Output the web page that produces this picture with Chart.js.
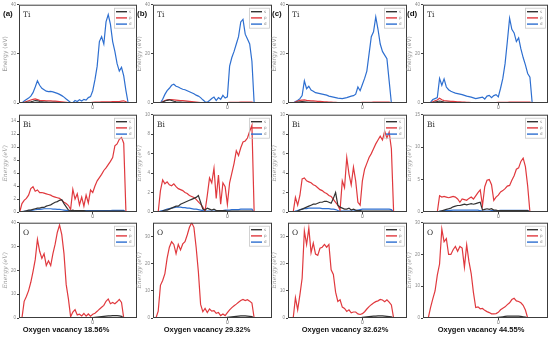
<!DOCTYPE html>
<html>
<head>
<meta charset="utf-8">
<script src="https://cdn.jsdelivr.net/npm/chart.js@4.4.0/dist/chart.umd.min.js"></script>
<style>
  body { margin: 0; background: #fff; width: 550px; height: 339px; position: relative; overflow: hidden;
         font-family: "Liberation Sans", Arial, sans-serif; }
  .panel { position: absolute; }
  .tag { position: absolute; font-weight: bold; font-size: 8px; color: #111; line-height: 1; }
  .cap { position: absolute; font-weight: bold; font-size: 7.5px; color: #111; line-height: 1; white-space: nowrap;
         transform: translate(-50%, -50%); }
</style>
</head>
<body>
<script>
// energy grid (shared x values)
const energy = [-9.9,-9.6,-9.3,-9.0,-8.7,-8.4,-8.1,-7.8,-7.5,-7.2,
  -6.9,-6.6,-6.3,-6.0,-5.7,-5.4,-5.1,-4.8,-4.5,-4.2,
  -3.9,-3.6,-3.3,-3.0,-2.7,-2.4,-2.1,-1.8,-1.5,-1.2,
  -0.9,-0.6,-0.3,0,0.3,0.6,0.9,1.2,1.5,1.8,
  2.1,2.4,2.7,3.0,3.3,3.6,3.9,4.2,4.5,4.8,
  5.1];

const panelTags = ['(a)', '(b)', '(c)', '(d)'];
const vacancies = ['Oxygen vacancy 18.56%', 'Oxygen vacancy 29.32%', 'Oxygen vacancy 32.62%', 'Oxygen vacancy 44.55%'];
const orbitals = ['s', 'p', 'd'];

// ---- Ti ----
const tiA_s = [null,0,0.2,0.3,0.4,0.5,0.7,1.0,0.9,0.6,
  0.5,0.4,0.4,0.3,0.3,0.3,0.3,0.2,0.2,0.2,
  0.2,0.1,0.1,0.05,0.05,0.05,0.05,0.05,0.05,0.05,
  0.05,0.1,0.1,0.1,0.1,0.1,0.1,0.1,0.1,0.1,
  0.1,0.1,0.1,0.1,0.1,0.1,0.2,0.2,0.1,0,
  null];
const tiA_p = [null,0,0.3,0.6,0.9,1.2,1.5,1.7,1.4,1.1,
  1.0,1.0,0.9,0.9,0.9,0.8,0.8,0.7,0.6,0.5,
  0.4,0.3,0.2,0.1,0.1,0.2,0.2,0.2,0.2,0.2,
  0.2,0.2,0.2,0.3,0.4,0.4,0.4,0.5,0.5,0.5,
  0.5,0.5,0.6,0.6,0.6,0.6,0.8,0.9,0.5,0,
  null];
const tiA_d = [null,0,0.8,1.4,2.0,2.8,4.2,6.5,9.0,7.2,
  6.0,5.4,4.8,4.6,4.7,4.5,4.2,3.9,3.5,3.0,
  2.4,1.6,0.9,0.2,0.1,1.0,0.6,1.3,0.8,1.5,
  1.2,2.2,2.6,5.0,9.5,15,25,27,24,33,
  36,32,25,21,16,13,14.5,11,5,0,
  null];

const tiB_s = [null,null,null,0,0.4,0.8,1.1,1.3,1.0,0.7,
  0.5,0.4,0.4,0.3,0.3,0.3,0.2,0.2,0.2,0.2,
  0.1,0.1,0.1,0.05,0.05,0.05,0.05,0.05,0.05,0.05,
  0.05,0.05,0.05,0.1,0.1,0.1,0.1,0.1,0.1,0.1,
  0.1,0.1,0.1,0.1,0.1,0,null,null,null,null,
  null];
const tiB_p = [null,null,null,0,0.5,1.0,1.3,1.4,1.4,1.3,
  1.2,1.1,1.0,1.0,0.9,0.8,0.7,0.6,0.5,0.4,
  0.3,0.2,0.1,0.1,0.1,0.1,0.1,0.1,0.1,0.1,
  0.1,0.1,0.1,0.2,0.3,0.3,0.3,0.3,0.3,0.4,
  0.4,0.4,0.4,0.4,0.4,0,null,null,null,null,
  null];
const tiB_d = [null,null,null,0,1.5,3.5,5.0,6.0,7.2,7.6,
  6.8,6.5,6.0,5.6,5.4,5.0,4.6,4.2,3.8,3.2,
  2.8,2.2,1.3,0.5,0.3,1.0,1.8,2.4,1.0,2.2,
  1.5,3.1,2.0,2.5,15,18.5,21,24,27,33,
  34,28,26,24,17,0,null,null,null,null,
  null];

const tiC_s = [null,null,0,0.2,0.4,0.5,0.6,0.5,0.4,0.3,
  0.3,0.3,0.2,0.2,0.2,0.2,0.2,0.2,0.1,0.1,
  0.1,0.1,0.1,0.05,0.05,0.05,0.05,0.05,0.05,0.05,
  0.05,0.1,0.1,0.1,0.1,0.1,0.1,0.1,0.1,0.1,
  0.1,0.1,0.1,0.1,0.1,0.1,0,null,null,null,
  null];
const tiC_p = [null,null,0,0.4,0.8,1.1,1.2,1.3,1.1,1.0,
  0.9,0.9,0.8,0.7,0.7,0.6,0.5,0.5,0.4,0.4,
  0.3,0.3,0.2,0.2,0.2,0.2,0.2,0.2,0.2,0.2,
  0.2,0.2,0.2,0.3,0.3,0.3,0.3,0.3,0.4,0.4,
  0.4,0.4,0.4,0.4,0.4,0.4,0,null,null,null,
  null];
const tiC_d = [null,null,0,0.6,1.0,1.8,3.0,9.0,5.8,6.8,
  5.3,4.8,4.2,4.0,3.8,3.6,3.4,3.2,2.8,2.6,
  2.4,2.2,2.0,1.9,1.8,2.0,2.2,2.5,2.8,3.0,
  3.6,6.5,5.0,7.5,10,13,20,27,29,35,
  30,24,21,19.5,18,9,0,null,null,null,
  null];

const tiD_s = [null,null,null,0,0.2,0.4,0.6,0.8,0.6,0.4,
  0.3,0.3,0.2,0.2,0.2,0.2,0.2,0.1,0.1,0.1,
  0.1,0.1,0.05,0.05,0.05,0.05,0.05,0.05,0.05,0.05,
  0.05,0.05,0.1,0.1,0.1,0.1,0.1,0.1,0.1,0.1,
  0.1,0.1,0.1,0.1,0.1,0.1,0.1,0.1,0,null,
  null];
const tiD_p = [null,null,null,0,0.5,0.9,1.2,1.9,1.3,1.0,
  0.9,0.8,0.7,0.7,0.6,0.5,0.5,0.4,0.4,0.3,
  0.3,0.2,0.2,0.2,0.2,0.2,0.2,0.2,0.2,0.2,
  0.2,0.2,0.2,0.3,0.3,0.3,0.3,0.3,0.4,0.4,
  0.4,0.4,0.4,0.4,0.4,0.4,0.4,0.4,0,null,
  null];
const tiD_d = [null,null,null,0.3,1.4,1.8,2.2,10,7.2,9.8,
  6.5,5.4,4.8,4.4,4.0,3.8,3.6,3.4,3.1,2.8,
  2.6,2.4,2.1,1.8,2.0,2.2,2.4,1.6,2.8,3.1,
  2.2,3.0,3.4,2.5,6,10,16,25,34.5,30,
  28.5,25,26.5,22,18.5,15.5,12,10.5,0,null,
  null];

// ---- Bi ----
const biA_s = [0,0,0.1,0.2,0.3,0.3,0.4,0.5,0.6,0.6,
  0.7,0.7,0.9,1.0,1.1,1.3,1.5,1.6,1.8,1.9,
  1.3,0.8,0.3,0.2,0.3,0.2,0.2,0.2,0.2,0.2,
  0.15,0.15,0.15,0.15,0.15,0.15,0.15,0.15,0.15,0.15,
  0.15,0.15,0.15,0.15,0.15,0.15,0.15,0.15,0,null,
  null];
const biA_p = [0,1.3,1.8,2.1,2.6,3.6,3.9,3.2,3.4,3.0,
  3.0,2.9,2.8,2.7,2.6,2.4,2.3,2.2,2.1,1.8,
  1.5,1.3,1.0,0.4,3.5,2.0,2.8,1.1,2.3,0.9,
  2.6,1.4,3.4,3.0,4.0,4.8,5.3,5.8,6.4,6.8,
  7.3,7.8,8.4,10.2,10.5,11.2,11.5,10.6,0,null,
  null];
const biA_d = [0,0.05,0.1,0.15,0.2,0.25,0.3,0.35,0.4,0.4,
  0.45,0.5,0.5,0.5,0.5,0.45,0.45,0.4,0.4,0.35,
  0.3,0.25,0.2,0.15,0.15,0.15,0.15,0.15,0.2,0.2,
  0.2,0.2,0.2,0.2,0.2,0.2,0.2,0.2,0.2,0.2,
  0.2,0.2,0.25,0.25,0.25,0.25,0.25,0.25,0,null,
  null];

const biB_s = [null,null,0,0,0.1,0.2,0.2,0.3,0.4,0.5,
  0.6,0.6,0.8,0.9,1.0,1.1,1.2,1.3,1.4,1.5,
  1.7,1.0,0.3,0.2,0.4,0.3,0.2,0.3,0.15,0.15,
  0.15,0.15,0.15,0.1,0.1,0.1,0.1,0.1,0.1,0.1,
  0.1,0.1,0.1,0.1,0.1,0,null,null,null,null,
  null];
const biB_p = [null,null,0,2.2,3.3,2.9,3.1,2.8,2.7,2.9,
  2.6,2.4,2.3,2.2,2.0,1.9,1.7,1.6,1.5,1.3,
  1.05,0.8,0.5,0.1,1.7,3.5,3.0,4.5,1.4,3.8,
  0.8,3.0,2.6,0.8,3.0,4.0,5.0,6.3,5.8,6.6,
  7.2,7.3,7.6,8.3,8.9,0,null,null,null,null,
  null];
const biB_d = [null,null,0,0.1,0.15,0.2,0.3,0.35,0.4,0.45,
  0.5,0.5,0.5,0.45,0.45,0.4,0.4,0.35,0.3,0.3,
  0.25,0.2,0.15,0.1,0.1,0.1,0.1,0.1,0.1,0.15,
  0.15,0.15,0.2,0.2,0.2,0.25,0.25,0.25,0.25,0.3,
  0.3,0.3,0.3,0.3,0.3,0,null,null,null,null,
  null];

const biC_s = [null,null,0,0,0.1,0.2,0.3,0.4,0.5,0.6,
  0.7,0.8,0.8,0.9,1.0,1.0,1.1,1.1,1.0,0.9,
  1.4,2.0,0.7,0.5,0.4,0.3,0.3,0.4,0.2,0.3,
  0.2,0.15,0.15,0.1,0.1,0.1,0.1,0.1,0.1,0.1,
  0.1,0.1,0.1,0.1,0.1,0.1,0.1,0,null,null,
  null];
const biC_p = [null,null,0,1.5,0.7,1.7,3.4,3.5,3.2,3.1,
  3.0,2.8,2.7,2.5,2.3,2.2,2.0,1.9,1.7,1.6,
  1.3,1.0,0.7,0.2,3.2,2.5,5.6,3.9,2.8,4.6,
  3.2,1.0,0.7,3.2,4.4,5.0,5.6,6.0,6.5,7.0,
  7.4,7.8,7.4,8.3,7.6,8.2,6.5,0,null,null,
  null];
const biC_d = [null,null,0,0.1,0.15,0.25,0.3,0.35,0.35,0.4,
  0.4,0.4,0.4,0.4,0.4,0.35,0.35,0.35,0.35,0.3,
  0.3,0.25,0.15,0.1,0.1,0.1,0.1,0.1,0.1,0.1,
  0.15,0.2,0.25,0.3,0.3,0.3,0.3,0.3,0.3,0.3,
  0.3,0.3,0.3,0.3,0.3,0.3,0.25,0,null,null,
  null];

const biD_s = [null,null,null,null,null,null,0,0.1,0.2,0.3,
  0.4,0.5,0.6,0.8,0.9,1.0,1.0,1.1,1.2,1.1,
  1.2,1.3,1.2,1.3,1.4,1.5,0.3,0.4,0.5,0.4,
  0.5,0.3,0.3,0.2,0.2,0.2,0.2,0.2,0.2,0.2,
  0.2,0.2,0.2,0.2,0.2,0.2,0.2,0,null,null,
  null];
const biD_p = [null,null,null,null,null,null,0,2.5,2.3,2.4,
  2.3,2.2,2.3,2.4,2.3,2.0,1.5,2.0,1.9,1.8,
  2.1,2.3,2.0,2.5,3.0,3.4,1.0,3.9,4.9,5.0,
  4.2,1.8,2.3,2.6,3.1,3.3,3.6,4.0,4.1,4.9,
  5.6,6.6,6.8,7.8,8.3,7.0,4.0,0,null,null,
  null];
const biD_d = [null,null,null,null,null,null,0,0.1,0.15,0.2,
  0.2,0.25,0.25,0.3,0.3,0.3,0.3,0.3,0.3,0.3,
  0.3,0.3,0.3,0.3,0.3,0.2,0.15,0.15,0.15,0.15,
  0.2,0.2,0.2,0.2,0.25,0.25,0.25,0.25,0.25,0.25,
  0.25,0.25,0.25,0.25,0.25,0.25,0.25,0,null,null,
  null];

// ---- O ----
const oA_s = [null,0,0.1,0.1,0.1,0.1,0.1,0.1,0.1,0.1,
  0.1,0.1,0.1,0.1,0.1,0.1,0.1,0.1,0.1,0.1,
  0.1,0.1,0.1,0.05,0.05,0.05,0.05,0.05,0.05,0.05,
  0.05,0.1,0.1,0.2,0.3,0.4,0.5,0.6,0.7,0.8,
  0.9,0.9,1.0,1.0,1.0,0.9,0.7,0,null,null,
  null];
const oA_p = [null,0,7.0,9.0,11.5,15,19.5,24.5,33,28,
  25,27,22,24,22,27,31,36,39,35,
  27,14,8,0.5,2.5,3.5,1.3,1.6,0.9,1.9,
  0.8,1.7,0.8,1.6,2.0,2.8,3.7,4.5,5.3,7.0,
  8.0,6.0,6.5,6.0,6.8,7.8,6.5,0,null,null,
  null];
const oA_d = [null,0,0.05,0.05,0.05,0.05,0.05,0.05,0.05,0.05,
  0.05,0.05,0.05,0.05,0.05,0.05,0.05,0.05,0.05,0.05,
  0.05,0.05,0.05,0.02,0.02,0.02,0.02,0.02,0.02,0.02,
  0.02,0.05,0.05,0.05,0.1,0.1,0.1,0.1,0.1,0.1,
  0.1,0.1,0.1,0.1,0.1,0.1,0.1,0,null,null,
  null];

const oB_s = [null,0,0.1,0.1,0.1,0.1,0.1,0.1,0.1,0.1,
  0.1,0.1,0.1,0.1,0.1,0.1,0.1,0.1,0.1,0.1,
  0.1,0.1,0.05,0.05,0.05,0.05,0.05,0.05,0.05,0.05,
  0.05,0.05,0.1,0.2,0.3,0.4,0.5,0.6,0.7,0.8,
  0.8,0.8,0.7,0.6,0.5,0,null,null,null,null,
  null];
const oB_p = [null,0,2.5,12,13.8,16.3,22,26,28,27,
  23.6,27,25,27.2,28,30.5,33.3,35,33.3,26,
  17,5,2.3,3.5,2.0,3.3,2.5,2.7,1.7,2.0,
  0.9,1.5,0.9,2.0,3.0,3.8,4.5,5.1,5.8,6.4,
  6.8,6.4,6.7,6.2,5.5,0,null,null,null,null,
  null];
const oB_d = [null,0,0.05,0.05,0.05,0.05,0.05,0.05,0.05,0.05,
  0.05,0.05,0.05,0.05,0.05,0.05,0.05,0.05,0.05,0.05,
  0.05,0.05,0.02,0.02,0.02,0.02,0.02,0.02,0.02,0.02,
  0.02,0.02,0.05,0.05,0.1,0.1,0.1,0.1,0.1,0.1,
  0.1,0.1,0.1,0.1,0.1,0,null,null,null,null,
  null];

const oC_s = [null,null,0,0.1,0.1,0.1,0.1,0.1,0.1,0.1,
  0.1,0.1,0.1,0.1,0.1,0.1,0.1,0.1,0.1,0.1,
  0.1,0.1,0.05,0.05,0.05,0.05,0.05,0.05,0.05,0.05,
  0.05,0.05,0.1,0.2,0.3,0.4,0.5,0.6,0.7,0.7,
  0.8,0.8,0.8,0.7,0.6,0.5,0.4,0,null,null,
  null];
const oC_p = [null,null,0,7.5,3.0,8.5,14.6,32,27,33,
  24,27.5,23.5,23,25.6,26,27,26,27,17.7,
  16,9.5,6.1,6.7,4.0,3.5,2.4,3.0,1.9,2.2,
  2.2,1.5,1.3,1.6,2.3,3.3,4.2,4.9,5.5,6.0,
  6.3,6.8,6.6,6.0,6.7,5.8,4.8,0,null,null,
  null];
const oC_d = [null,null,0,0.05,0.05,0.05,0.05,0.05,0.05,0.05,
  0.05,0.05,0.05,0.05,0.05,0.05,0.05,0.05,0.05,0.05,
  0.05,0.05,0.02,0.02,0.02,0.02,0.02,0.02,0.02,0.02,
  0.02,0.02,0.05,0.05,0.1,0.1,0.1,0.1,0.1,0.1,
  0.1,0.1,0.1,0.1,0.1,0.1,0.1,0,null,null,
  null];

const oD_s = [null,null,0,0.1,0.1,0.1,0.1,0.1,0.1,0.1,
  0.1,0.1,0.1,0.1,0.1,0.1,0.1,0.1,0.1,0.1,
  0.1,0.1,0.05,0.05,0.05,0.05,0.05,0.05,0.05,0.05,
  0.05,0.05,0.1,0.2,0.3,0.4,0.5,0.6,0.6,0.6,
  0.6,0.6,0.6,0.5,0.4,0.3,0,null,null,null,
  null];
const oD_p = [null,null,0,3.3,6.0,8.5,13.5,17,28,24,
  25,20,20,21.5,22.5,21,22.5,22,16,23,
  17.8,14,8,3.3,3.5,2.9,3.0,2.4,2.0,1.7,
  1.3,1.3,1.4,1.8,2.6,3.1,3.5,4.2,4.8,5.8,
  6.2,5.4,5.2,4.8,4.0,2.5,0,null,null,null,
  null];
const oD_d = [null,null,0,0.05,0.05,0.05,0.05,0.05,0.05,0.05,
  0.05,0.05,0.05,0.05,0.05,0.05,0.05,0.05,0.05,0.05,
  0.05,0.05,0.02,0.02,0.02,0.02,0.02,0.02,0.02,0.02,
  0.02,0.02,0.05,0.05,0.1,0.1,0.1,0.1,0.1,0.1,
  0.1,0.1,0.1,0.1,0.1,0.1,0,null,null,null,
  null];

// layout of the grid of plots (plot-box pixels)
const columns = [
  { left: 19,  w: 118, xMax: 6 },
  { left: 153, w: 119, xMax: 6 },
  { left: 288, w: 119, xMax: 6 },
  { left: 423, w: 125, xMax: 6.6 }
];
const rows = [
  { top: 4,   h: 99, el: 'Ti', italic: false },
  { top: 114, h: 98, el: 'Bi', italic: true },
  { top: 222, h: 96, el: 'O',  italic: true }
];
const captionX = [66, 207, 345, 481];

const panels = [
  { r: 0, c: 0, yMax: 40, yTicks: [0, 20, 40], s: tiA_s, p: tiA_p, d: tiA_d },
  { r: 0, c: 1, yMax: 40, yTicks: [0, 20, 40], s: tiB_s, p: tiB_p, d: tiB_d },
  { r: 0, c: 2, yMax: 40, yTicks: [0, 20, 40], s: tiC_s, p: tiC_p, d: tiC_d },
  { r: 0, c: 3, yMax: 40, yTicks: [0, 20, 40], s: tiD_s, p: tiD_p, d: tiD_d },
  { r: 1, c: 0, yMax: 15, yTicks: [0, 2, 4, 6, 8, 10, 12, 14], s: biA_s, p: biA_p, d: biA_d },
  { r: 1, c: 1, yMax: 10, yTicks: [0, 2, 4, 6, 8, 10], s: biB_s, p: biB_p, d: biB_d },
  { r: 1, c: 2, yMax: 10, yTicks: [0, 2, 4, 6, 8, 10], s: biC_s, p: biC_p, d: biC_d },
  { r: 1, c: 3, yMax: 15, yTicks: [0, 5, 10, 15], s: biD_s, p: biD_p, d: biD_d },
  { r: 2, c: 0, yMax: 40, yTicks: [0, 10, 20, 30, 40], s: oA_s, p: oA_p, d: oA_d },
  { r: 2, c: 1, yMax: 35, yTicks: [0, 10, 20, 30], s: oB_s, p: oB_p, d: oB_d },
  { r: 2, c: 2, yMax: 35, yTicks: [0, 10, 20, 30], s: oC_s, p: oC_p, d: oC_d },
  { r: 2, c: 3, yMax: 30, yTicks: [0, 10, 20, 30], s: oD_s, p: oD_p, d: oD_d }
];

const colors = { s: '#333333', p: '#e0393e', d: '#2e6fd0' };

// frame, element name and the small legend inside the plot
const framePlugin = {
  id: 'frame',
  afterDraw(chart, args, opts) {
    const ctx = chart.ctx, ca = chart.chartArea;
    ctx.save();
    ctx.strokeStyle = '#3c3c3c';
    ctx.lineWidth = 1;
    ctx.strokeRect(ca.left + 0.5, ca.top + 0.5, ca.width - 1, ca.height - 1);

    ctx.fillStyle = '#333';
    ctx.font = '7.5px "DejaVu Serif"';
    ctx.textBaseline = 'middle';
    ctx.fillText(opts.element, ca.left + 4, ca.top + 10);

    const bw = 20, bh = 20, bx = ca.right - bw - 3, by = ca.top + 3;
    ctx.strokeStyle = '#c8c8c8';
    ctx.lineWidth = 0.8;
    ctx.strokeRect(bx + 0.5, by + 0.5, bw, bh);
    chart.data.datasets.forEach((ds, i) => {
      const y = by + 4 + i * 6.2;
      ctx.strokeStyle = ds.borderColor;
      ctx.lineWidth = 1.4;
      ctx.beginPath();
      ctx.moveTo(bx + 2, y);
      ctx.lineTo(bx + 13, y);
      ctx.stroke();
      ctx.fillStyle = '#888';
      ctx.font = '4px "DejaVu Sans"';
      ctx.fillText(ds.label, bx + 15, y);
    });
    ctx.restore();
  }
};

function drawPanel(pn) {
  const col = columns[pn.c], row = rows[pn.r];
  const div = document.createElement('div');
  div.className = 'panel';
  div.style.left = (col.left - 17) + 'px';
  div.style.top = (row.top - 3) + 'px';
  div.style.width = (col.w + 20) + 'px';
  div.style.height = (row.h + 13) + 'px';
  const canvas = document.createElement('canvas');
  div.appendChild(canvas);
  document.body.appendChild(div);

  const series = { s: pn.s, p: pn.p, d: pn.d };
  new Chart(canvas, {
    type: 'line',
    data: {
      datasets: orbitals.map(o => ({
        label: o,
        data: energy.map((e, i) => ({ x: e, y: series[o][i] })),
        borderColor: colors[o],
        borderWidth: 1.2,
        pointRadius: 0,
        tension: 0,
        spanGaps: false
      }))
    },
    options: {
      responsive: true,
      maintainAspectRatio: false,
      animation: false,
      devicePixelRatio: 1,
      layout: { padding: { top: 3, right: 3, left: 0, bottom: 0 } },
      plugins: {
        legend: { display: false },
        tooltip: { enabled: false },
        frame: { element: row.el }
      },
      scales: {
        x: {
          type: 'linear',
          min: -10,
          max: col.xMax,
          afterBuildTicks: a => { a.ticks = [{ value: 0 }]; },
          afterFit: a => { a.height = 10; },
          grid: { drawOnChartArea: false, tickLength: 2, color: '#444' },
          border: { display: false },
          ticks: { font: { size: 5 }, color: '#666', padding: 0, maxRotation: 0, autoSkip: false }
        },
        y: {
          min: 0,
          max: pn.yMax,
          afterBuildTicks: a => { a.ticks = pn.yTicks.map(v => ({ value: v })); },
          afterFit: a => { a.width = 17; },
          grid: { drawOnChartArea: false, tickLength: 2, color: '#444' },
          border: { display: false },
          ticks: { font: { size: 4.5 }, color: '#888', padding: 1, autoSkip: false },
          title: {
            display: true,
            text: 'Energy (eV)',
            color: '#999',
            padding: 0,
            font: row.italic ? { size: 6, style: 'italic', family: '"DejaVu Serif"' } : { size: 6, family: '"DejaVu Sans"' }
          }
        }
      }
    },
    plugins: [framePlugin]
  });
}

panels.forEach(drawPanel);

panelTags.forEach((t, c) => {
  const el = document.createElement('div');
  el.className = 'tag';
  el.textContent = t;
  el.style.left = (columns[c].left - 16) + 'px';
  el.style.top = '10px';
  document.body.appendChild(el);
});

vacancies.forEach((t, c) => {
  const el = document.createElement('div');
  el.className = 'cap';
  el.textContent = t;
  el.style.left = captionX[c] + 'px';
  el.style.top = '330px';
  document.body.appendChild(el);
});
</script>
</body>
</html>
